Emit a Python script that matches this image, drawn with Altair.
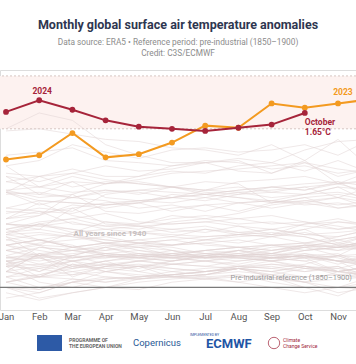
import altair as alt
import pandas as pd

MONTHS = ["Jan", "Feb", "Mar", "Apr", "May", "Jun", "Jul", "Aug", "Sep", "Oct", "Nov", "Dec"]

Y2024 = [1.66, 1.77, 1.68, 1.58, 1.52, 1.50, 1.48, 1.51, 1.54, 1.65]
Y2023 = [1.21, 1.25, 1.46, 1.23, 1.26, 1.37, 1.53, 1.51, 1.74, 1.70, 1.74, 1.78]

# All years since 1940 (hundredths of a degree, Jan..Dec), read approximately
PAST_YEARS = list(range(1940, 2023))
PAST_VALUES = [
    "22 38 35 30 28 32 30 35 40 38 30 45",
    "40 35 30 38 42 40 45 42 48 55 42 50",
    "48 30 28 32 30 28 25 22 28 30 25 20",
    "15 32 25 30 28 25 30 35 32 40 38 42",
    "45 40 38 35 42 40 45 48 50 48 40 35",
    "35 28 30 38 32 30 28 35 30 32 25 10",
    "20 22 18 25 15 10 12 18 20 15 20 10",
    "22 15 25 20 18 25 30 28 25 32 28 20",
    "25 10 12 20 22 18 15 20 22 18 15 12",
    "10 18 12 15 20 10 12 18 15 10 12 8",
    "-10 -5 5 0 8 10 8 5 10 0 -8 5",
    "0 -5 5 15 20 22 25 28 30 28 25 30",
    "25 28 18 22 20 25 28 30 25 18 15 20",
    "28 32 35 38 30 35 28 30 32 30 25 28",
    "15 10 8 5 8 10 12 15 12 18 20 5",
    "20 5 0 8 10 12 15 18 10 5 -5 0",
    "-5 -12 -5 0 5 8 10 12 8 5 0 10",
    "5 10 15 20 25 30 35 32 38 40 35 45",
    "50 45 40 30 32 28 30 28 25 28 30 28",
    "35 30 38 32 28 25 30 28 25 20 18 25",
    "20 30 10 20 25 22 20 25 28 30 22 30",
    "30 38 35 32 35 30 28 30 28 30 32 20",
    "28 30 25 30 28 32 28 25 28 30 25 22",
    "15 32 20 25 28 30 35 38 40 42 38 35",
    "25 20 15 10 8 12 10 5 0 -5 0 -2",
    "5 -2 8 5 10 15 12 18 15 20 15 20",
    "10 12 20 18 15 22 25 20 18 15 18 12",
    "15 10 22 18 20 15 18 20 25 28 15 20",
    "5 10 22 15 10 12 15 18 15 20 12 10",
    "15 20 25 28 32 30 28 32 30 35 38 40",
    "35 40 28 30 25 22 20 18 22 20 15 12",
    "10 0 5 8 10 12 15 18 12 10 12 15",
    "5 12 18 22 25 28 30 32 28 35 38 40",
    "45 50 48 42 40 38 32 30 28 25 15 10",
    "0 -2 5 10 8 12 15 18 10 5 8 10",
    "20 18 25 15 12 10 8 12 5 0 0 5",
    "0 -10 -5 0 -2 5 8 10 12 5 15 20",
    "25 30 35 40 38 35 32 30 28 25 30 20",
    "28 25 30 22 20 18 15 20 18 22 30 20",
    "25 15 30 28 30 32 35 38 40 42 48 55",
    "40 45 38 42 45 40 42 38 35 40 42 38",
    "55 45 50 42 38 40 42 45 40 35 38 45",
    "22 28 20 25 30 28 32 30 35 38 45 50",
    "60 58 55 50 52 48 45 50 48 42 45 38",
    "40 30 32 35 38 30 32 35 28 30 25 20",
    "30 22 28 32 30 28 25 30 32 28 30 32",
    "40 45 38 42 35 32 35 38 32 38 35 38",
    "40 45 38 42 45 48 55 52 55 50 48 55",
    "60 58 62 55 52 50 48 50 48 52 45 50",
    "35 42 45 48 42 45 48 50 52 48 40 50",
    "52 55 75 60 58 55 52 58 50 60 65 58",
    "55 60 52 62 58 60 62 58 55 50 52 55",
    "60 55 50 45 42 35 28 30 32 38 40 42",
    "50 52 48 45 42 45 40 38 35 40 38 45",
    "48 40 52 55 58 52 55 50 55 60 62 58",
    "65 80 68 62 60 65 68 65 60 62 58 52",
    "52 60 55 50 52 55 58 52 50 55 62 60",
    "55 62 65 58 60 68 65 70 78 82 85 80",
    "90 105 95 100 98 95 100 98 80 85 75 78",
    "65 72 60 58 55 62 65 60 62 58 55 60",
    "50 60 65 70 62 60 62 65 68 62 55 58",
    "65 68 78 75 80 72 78 80 75 80 85 75",
    "92 95 100 85 82 80 85 80 82 78 80 75",
    "90 82 80 78 82 85 82 88 90 95 85 95",
    "88 90 85 82 75 78 72 80 82 88 90 85",
    "90 78 85 92 88 95 90 88 95 92 98 90",
    "75 82 80 78 80 88 85 90 92 95 98 100",
    "115 95 90 92 90 85 88 85 82 80 75 80",
    "60 68 88 72 70 75 78 72 80 85 88 82",
    "75 72 70 78 80 85 92 95 90 88 95 92",
    "100 105 108 102 98 95 92 90 85 88 95 80",
    "72 70 75 80 82 85 88 85 80 82 78 82",
    "70 75 72 88 92 90 88 92 95 98 100 85",
    "90 88 85 90 92 95 88 92 95 92 100 95",
    "92 85 88 98 100 95 92 100 102 105 98 102",
    "100 95 105 98 105 110 108 115 118 130 138 140",
    "150 165 158 135 125 118 118 122 118 110 120 108",
    "125 128 132 120 118 115 120 118 112 115 108 112",
    "105 100 108 115 110 112 118 110 108 118 105 112",
    "115 120 135 128 122 130 132 128 130 135 125 140",
    "148 150 145 140 138 132 130 125 135 120 140 112",
    "105 88 100 98 102 108 110 112 115 118 112 108",
    "108 105 112 105 105 115 118 120 108 120 98 110",
]

FONT = "Roboto"
RED = "#a6243a"
ORANGE = "#f39a20"

rows = []
for yr, s in zip(PAST_YEARS, PAST_VALUES):
    for m, v in enumerate(s.split(), start=1):
        rows.append({"year": yr, "month": m, "value": int(v) / 100})
past = pd.DataFrame(rows)
d24 = pd.DataFrame({"month": list(range(1, len(Y2024) + 1)), "value": Y2024})
d23 = pd.DataFrame({"month": list(range(1, len(Y2023) + 1)), "value": Y2023})

xs = alt.Scale(domain=[0.819, 11.542], nice=False, zero=False)
ys = alt.Scale(domain=[-0.213, 2.056], nice=False, zero=False)
label_expr = "[" + ",".join(f"'{m}'" for m in MONTHS) + "][datum.value - 1]"
X = alt.X("month:Q", scale=xs, title=None,
          axis=alt.Axis(values=list(range(1, 13)), labelExpr=label_expr, domain=False,
                        ticks=False, grid=False, labelFont=FONT, labelFontSize=9.5,
                        labelColor="#555555", labelPadding=1))
Y = alt.Y("value:Q", scale=ys, axis=None)

band = alt.Chart(pd.DataFrame({"lo": [1.5], "hi": [2.0]})).mark_rect(color="#fdf2f0").encode(
    y=alt.Y("lo:Q", scale=ys, axis=None), y2="hi:Q")
dashes = alt.Chart(pd.DataFrame({"v": [1.5, 2.0]})).mark_rule(
    color="#d6c6c2", strokeDash=[2, 2], strokeWidth=1).encode(y=alt.Y("v:Q", scale=ys, axis=None))

grey = alt.Chart(past).mark_line(color="#e0d3d3", strokeWidth=0.7, opacity=0.75, clip=True).encode(
    x=X, y=Y, detail="year:N")
base0 = alt.Chart(pd.DataFrame({"v": [0.0]})).mark_rule(color="#7a7a7a", strokeWidth=1.2).encode(
    y=alt.Y("v:Q", scale=ys, axis=None))

l23 = alt.Chart(d23).mark_line(color=ORANGE, strokeWidth=2, clip=True).encode(x=X, y=Y)
p23 = alt.Chart(d23).mark_circle(color=ORANGE, size=34, opacity=1, clip=True).encode(x=X, y=Y)
l24 = alt.Chart(d24).mark_line(color=RED, strokeWidth=2, clip=True).encode(x=X, y=Y)
p24 = alt.Chart(d24).mark_circle(color=RED, size=34, opacity=1, clip=True).encode(x=X, y=Y)

t24 = alt.Chart(pd.DataFrame({"month": [2], "value": [1.77], "t": ["2024"]})).mark_text(
    font=FONT, fontSize=8.5, fontWeight="bold", color=RED, dy=-9, dx=3).encode(x=X, y=Y, text="t:N")
t23 = alt.Chart(pd.DataFrame({"month": [11.15], "value": [1.848], "t": ["2023"]})).mark_text(
    font=FONT, fontSize=8.5, fontWeight="bold", color=ORANGE).encode(x=X, y=Y, text="t:N")
toct = alt.Chart(pd.DataFrame({"month": [10], "value": [1.65], "t": ["October"]})).mark_text(
    font=FONT, fontSize=8.5, fontWeight="bold", color=RED, align="left", dx=0, dy=9).encode(
    x=X, y=Y, text="t:N")
tval = alt.Chart(pd.DataFrame({"month": [10], "value": [1.65], "t": ["1.65°C"]})).mark_text(
    font=FONT, fontSize=8.5, fontWeight="bold", color=RED, align="left", dx=0, dy=19).encode(
    x=X, y=Y, text="t:N")
tall = alt.Chart(pd.DataFrame({"month": [4.13], "value": [0.506], "t": ["All years since 1940"]})).mark_text(
    font=FONT, fontSize=8, fontWeight="bold", color="#c6c0c0").encode(x=X, y=Y, text="t:N")
tpre = alt.Chart(pd.DataFrame({"month": [11.42], "value": [0.09],
                               "t": ["Pre-industrial reference (1850–1900)"]})).mark_text(
    font=FONT, fontSize=7.4, color="#9a9a9a", align="right").encode(x=X, y=Y, text="t:N")

one = pd.DataFrame({"a": [0]})
eu = alt.Chart(one).mark_rect(color="#2d5aa6").encode(
    x=alt.value(37), x2=alt.value(62), y=alt.value(265), y2=alt.value(281))


def small(txt, x, y, size, color, weight="normal", align="left"):
    return alt.Chart(one).mark_text(font=FONT, fontSize=size, color=color, fontWeight=weight,
                                    align=align, baseline="middle").encode(
        x=alt.value(x), y=alt.value(y), text=alt.value(txt))


logos = [
    eu,
    small("PROGRAMME OF", 69, 270, 5, "#666666", "bold"),
    small("THE EUROPEAN UNION", 69, 276, 5, "#666666", "bold"),
    small("Copernicus", 133, 273, 9.5, "#2a5a96"),
    small("IMPLEMENTED BY", 190, 265, 3.5, "#2a55a0"),
    small("ECMWF", 206, 273.5, 13, "#1f55a5", "bold"),
    alt.Chart(one).mark_point(shape="circle", filled=False, color="#a0243a", size=130,
                              strokeWidth=1).encode(x=alt.value(274), y=alt.value(273)),
    small("Climate", 283, 270, 5, "#a0243a"),
    small("Change Service", 283, 276, 5, "#a0243a"),
]

chart = alt.layer(band, dashes, grey, base0, l23, p23, l24, p24, t24, t23, toct, tval, tall, tpre,
                  *logos).properties(
    width=356, height=240,
    title=alt.TitleParams(
        text="Monthly global surface air temperature anomalies",
        subtitle=["Data source: ERA5 • Reference period: pre-industrial (1850–1900)",
                  "Credit: C3S/ECMWF"],
        anchor="middle", font=FONT, fontSize=12.5, fontWeight="bold", color="#2e3650",
        subtitleFont=FONT, subtitleFontSize=8.3, subtitleColor="#8c8c8c",
        subtitlePadding=7, offset=13),
    autosize=alt.AutoSizeParams(type="none"),
    padding={"left": 0, "right": 0, "top": 70, "bottom": 54},
).configure_view(stroke=None).configure(background="white")

chart.save("out.html", embed_options={"renderer": "svg", "actions": False})
